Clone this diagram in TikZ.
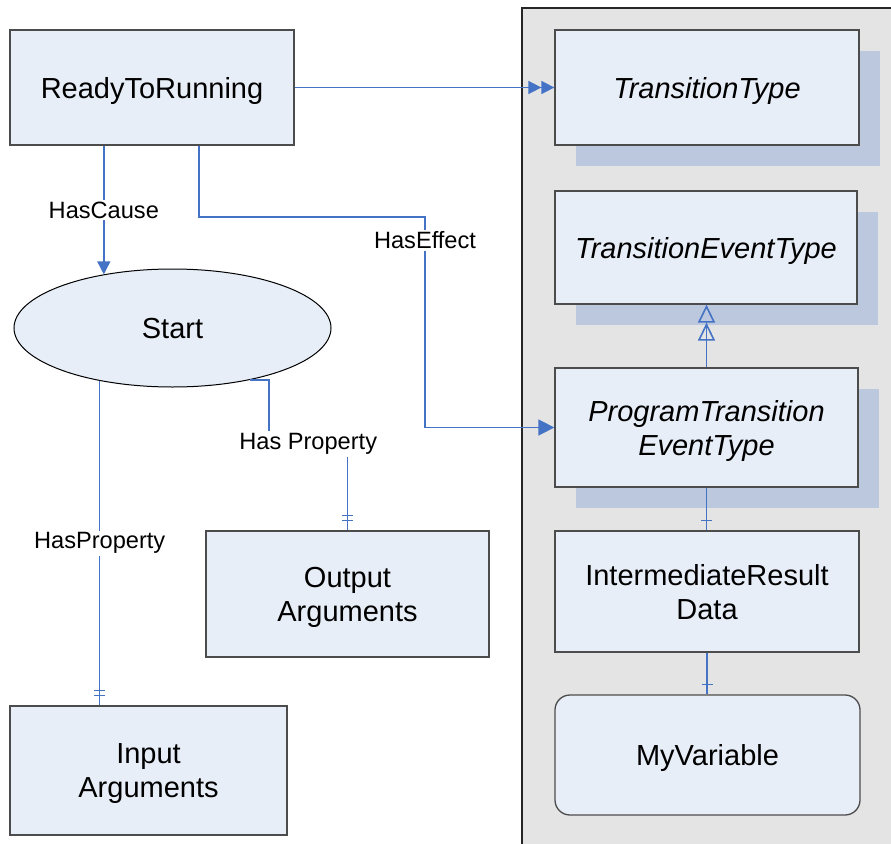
\documentclass[tikz,border=0pt]{standalone}
\usepackage{fontspec}
\setmainfont{Liberation Sans}
\usepackage{tikz}
\usetikzlibrary{shapes.geometric,arrows.meta,decorations.markings,shadows}
\definecolor{boxfill}{RGB}{232,238,247}
\definecolor{shadowblue}{RGB}{188,200,222}
\definecolor{panelgray}{RGB}{228,228,228}
\definecolor{linkblue}{RGB}{68,114,196}
\newcommand{\bigtext}{\fontsize{29}{34}\selectfont}
\newcommand{\lbltext}{\fontsize{23.6}{28}\selectfont}

\begin{document}
\begin{tikzpicture}[x=1pt,y=-1pt,
  box/.style={draw=black!70, line width=1.3pt, fill=boxfill, align=center, inner sep=0pt, text depth=0pt, font=\bigtext},
  shadowed/.style={drop shadow={shadow xshift=21pt, shadow yshift=-21pt, fill=shadowblue, opacity=1}},
  conn/.style={draw=linkblue, line width=1.6pt},
  lbl/.style={fill=white, inner sep=2pt, font=\lbltext},
  onebar/.style={postaction={decorate, decoration={markings, mark=at position -10pt with {\draw[conn] (0pt,-5.5pt)--(0pt,5.5pt);}}}},
  twobar/.style={postaction={decorate, decoration={markings, mark=at position -10pt with {\draw[conn] (0pt,-5.5pt)--(0pt,5.5pt);}, mark=at position -15pt with {\draw[conn] (0pt,-5.5pt)--(0pt,5.5pt);}}}}]
  \useasboundingbox (0,0) rectangle (891,843);
  \path[draw=black!85, line width=2pt, fill=panelgray] (522,8) rectangle (900,860);

  \node[box, minimum width=284pt, minimum height=115pt] (rtr) at (152,87.5) {ReadyToRunning};
  \node[box, ellipse, draw=black, line width=1pt, minimum width=317pt, minimum height=118pt] (start) at (172.5,328) {Start};
  \node[box, minimum width=283pt, minimum height=126pt] (outarg) at (347.5,594) {Output\\Arguments};
  \node[box, minimum width=277pt, minimum height=129pt] (inarg) at (148.5,770.5) {Input\\Arguments};

  \node[box, shadowed, minimum width=304pt, minimum height=115pt, font=\bigtext\itshape] (tt) at (707,87.5) {TransitionType};
  \node[box, shadowed, minimum width=302pt, minimum height=113pt, font=\bigtext\itshape] (tet) at (706,247.5) {TransitionEventType};
  \node[box, shadowed, minimum width=303pt, minimum height=119pt, font=\bigtext\itshape] (ptet) at (706.5,427.5) {ProgramTransition\\EventType};
  \node[box, minimum width=304pt, minimum height=121pt] (ird) at (707,591.5) {IntermediateResult\\Data};
  \node[box, rounded corners=15pt, minimum width=305pt, minimum height=120pt] (myv) at (707.5,755) {MyVariable};

  \coordinate (effbend) at (425,217);
  \coordinate (propbend) at (269,444);

  \path[conn, -{Triangle[length=13pt,width=13pt]Triangle[length=13pt,width=13pt]}] (rtr.east) -- (tt.west);
  \path[conn, -{Triangle[length=13pt,width=13pt]}] (start.142 |- rtr.south) -- node[lbl]{HasCause} (start.142);
  \path[conn, -{Triangle[length=16pt,width=16pt]}] ([xshift=47pt]rtr.south) |- (effbend) -- node[lbl, pos=0.11]{HasEffect} (effbend |- ptet.west) -- (ptet.west);
  \path[conn, twobar] (start.216) -- node[lbl]{HasProperty} (start.216 |- inarg.north);
  \path[conn, twobar] (start.-34) -| (propbend) -| node[lbl, pos=0.25]{Has Property} (outarg.north);
  \path[conn, -{Triangle[open,length=18pt,width=17pt]Triangle[open,length=18pt,width=17pt]}] (ptet.north) -- (ptet.north |- tet.south);
  \path[conn, onebar] (ptet.south) -- (ptet.south |- ird.north);
  \path[conn, onebar] (ird.south) -- (ird.south |- myv.north);
\end{tikzpicture}
\end{document}
